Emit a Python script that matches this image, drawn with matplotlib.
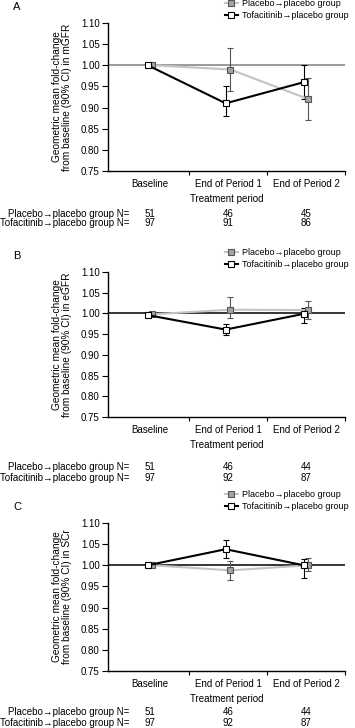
import matplotlib
matplotlib.use("Agg")
import matplotlib.pyplot as plt
from matplotlib.lines import Line2D

plt.rcParams['font.family'] = ['Liberation Sans', 'DejaVu Sans']

periods = ["Baseline", "End of Period 1", "End of Period 2"]
group_names = ["Placebo\u2192placebo group", "Tofacitinib\u2192placebo group"]
y_ticks = [0.75, 0.80, 0.85, 0.90, 0.95, 1.00, 1.05, 1.10]

# panel A: mGFR
a_plac_mean = [1.00, 0.99, 0.92]
a_plac_lo = [1.00, 0.94, 0.87]
a_plac_hi = [1.00, 1.04, 0.97]
a_tofa_mean = [1.00, 0.91, 0.96]
a_tofa_lo = [1.00, 0.88, 0.92]
a_tofa_hi = [1.00, 0.95, 1.00]
a_n_plac = [51, 46, 45]
a_n_tofa = [97, 91, 86]

# panel B: eGFR
b_plac_mean = [0.998, 1.009, 1.008]
b_plac_lo = [0.998, 0.988, 0.986]
b_plac_hi = [0.998, 1.040, 1.030]
b_tofa_mean = [0.996, 0.961, 0.999]
b_tofa_lo = [0.996, 0.949, 0.978]
b_tofa_hi = [0.996, 0.975, 1.012]
b_n_plac = [51, 46, 44]
b_n_tofa = [97, 92, 87]

# panel C: SCr
c_plac_mean = [1.00, 0.988, 1.00]
c_plac_lo = [1.00, 0.966, 0.987]
c_plac_hi = [1.00, 1.011, 1.018]
c_tofa_mean = [1.00, 1.038, 1.00]
c_tofa_lo = [1.00, 1.018, 0.970]
c_tofa_hi = [1.00, 1.059, 1.015]
c_n_plac = [51, 46, 44]
c_n_tofa = [97, 92, 87]

W, H = 355, 728
fig = plt.figure(figsize=(W / 100, H / 100), dpi=100)

plac_line = "#c4c4c4"
plac_face = "#a3a3a3"
plac_edge = "#555555"


def px_axes(left, right, top, bottom):
    return fig.add_axes([left / W, 1 - bottom / H, (right - left) / W, (bottom - top) / H])


def panel(box, letter, legend_y, measure, refcolor, plac, tofa, n_plac, n_tofa, rows_px):
    left, right, top, bottom = box
    ax = px_axes(left, right, top, bottom)
    x = list(range(len(periods)))
    dodge = 0.03

    ax.axhline(1.0, color=refcolor, lw=1.1, zorder=1)

    pm, plo, phi = plac
    tm, tlo, thi = tofa
    xp = [v + dodge for v in x]
    xt = [v - dodge for v in x]
    ax.errorbar(xp, pm, yerr=[[m - l for m, l in zip(pm, plo)], [h - m for m, h in zip(pm, phi)]],
                fmt="none", ecolor=plac_edge, elinewidth=0.8, capsize=2, capthick=0.8, zorder=2)
    ax.errorbar(xt, tm, yerr=[[m - l for m, l in zip(tm, tlo)], [h - m for m, h in zip(tm, thi)]],
                fmt="none", ecolor="black", elinewidth=0.8, capsize=2, capthick=0.8, zorder=2)
    ax.plot(xp, pm, color=plac_line, lw=1.5, marker="s", ms=4.5, mfc=plac_face, mec=plac_edge,
            mew=0.8, zorder=3)
    ax.plot(xt, tm, color="black", lw=1.5, marker="s", ms=4.5, mfc="white", mec="black",
            mew=0.8, zorder=4)

    ax.set_xlim(-0.54, 2.5)
    ax.set_ylim(0.75, 1.10)
    ax.set_yticks(y_ticks)
    ax.set_yticklabels([f"{v:.2f}" for v in y_ticks], fontsize=7)
    ax.set_xticks(x)
    ax.set_xticklabels(periods, fontsize=7)
    ax.set_xticks([0.5, 1.5, 2.5], minor=True)
    ax.tick_params(axis="x", which="major", length=0, pad=6)
    ax.tick_params(axis="x", which="minor", length=3, width=0.8, direction="out")
    ax.tick_params(axis="y", length=4, width=0.8, pad=2)
    for s in ["top", "right"]:
        ax.spines[s].set_visible(False)
    for s in ["left", "bottom"]:
        ax.spines[s].set_linewidth(1.0)
    ax.set_xlabel("Treatment period", fontsize=7, labelpad=3)
    ax.set_ylabel("Geometric mean fold-change\nfrom baseline (90% CI) in " + measure,
                  fontsize=7.3, linespacing=1.0)
    ax.yaxis.set_label_coords(-0.15, 0.5)

    fig.text(17 / W, 1 - (top - 16) / H, letter, fontsize=8, ha="center", va="center")

    handles = [
        Line2D([], [], color=plac_line, lw=1.5, marker="s", ms=4.5, mfc=plac_face, mec=plac_edge, mew=0.8),
        Line2D([], [], color="black", lw=1.5, marker="s", ms=4.5, mfc="white", mec="black", mew=0.8),
    ]
    fig.legend(handles, group_names, loc="upper left", bbox_to_anchor=(225 / W, 1 - legend_y / H),
               frameon=False, fontsize=6.5, handlelength=1.4, handletextpad=0.5,
               labelspacing=0.35, borderpad=0, borderaxespad=0)

    for row, (name, counts) in enumerate(zip(group_names, [n_plac, n_tofa])):
        yy = 1 - rows_px[row] / H
        fig.text(129 / W, yy, name + " N=", fontsize=7, ha="right", va="center")
        for xi, n in zip(x, counts):
            xf = (left + (xi + 0.54) / 3.04 * (right - left)) / W
            fig.text(xf, yy, str(n), fontsize=7, ha="center", va="center")
    return ax


panel((108, 345, 23, 171), "A", -1, "mGFR", "#808080",
      (a_plac_mean, a_plac_lo, a_plac_hi), (a_tofa_mean, a_tofa_lo, a_tofa_hi),
      a_n_plac, a_n_tofa, (214, 223.5))
panel((108, 345, 272, 417), "B", 248, "eGFR", "black",
      (b_plac_mean, b_plac_lo, b_plac_hi), (b_tofa_mean, b_tofa_lo, b_tofa_hi),
      b_n_plac, b_n_tofa, (467, 478))
panel((108, 345, 523, 671), "C", 490, "SCr", "black",
      (c_plac_mean, c_plac_lo, c_plac_hi), (c_tofa_mean, c_tofa_lo, c_tofa_hi),
      c_n_plac, c_n_tofa, (712, 723))

fig.savefig("out.png", dpi=100)
